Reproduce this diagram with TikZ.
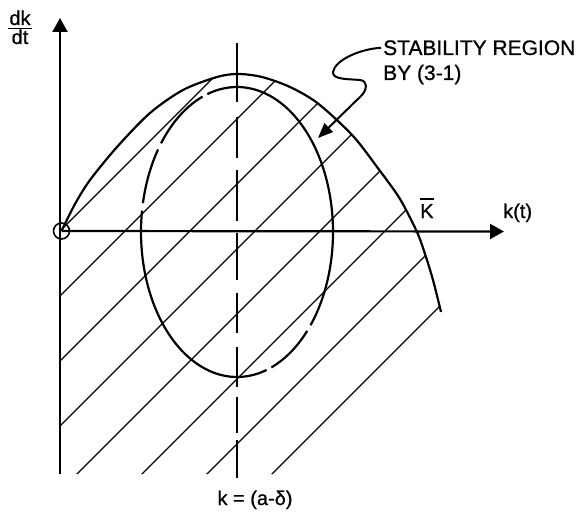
\documentclass[tikz,border=0pt]{standalone}
\usepackage{fontspec}
\setmainfont{Liberation Sans}[FakeBold=0.8]
\usetikzlibrary{arrows.meta}
\begin{document}
\begin{tikzpicture}[x=1pt,y=-1pt,
  thickline/.style={line width=2.2pt},
  hatch/.style={line width=1.3pt},
  lbl/.style={inner sep=0pt, font=\fontsize{20}{24}\selectfont},
  biglbl/.style={inner sep=0pt, font=\fontsize{21}{25}\selectfont},
  axisarrow/.style={-{Triangle[length=14pt,width=15pt]}}]
\useasboundingbox (0,0) rectangle (577,513);

% hatching
\begin{scope}
\clip (60,474) -- (60,231) -- plot[smooth] coordinates {(61.5,231) (75,204) (90,180) (117,147) (150,113) (183,90) (217,77) (238,74) (262,77) (290,87) (318,103.5) (353,136) (380,171) (400,199) (417,232) (425,254) (433,280) (441,312)} -- (441,474) -- cycle;
\foreach \c in {291,356,421,486,551,616,681,746}
  \draw[hatch] ({\c-480},480) -- ({\c-20},20);
\end{scope}

% outer curve
\draw[thickline] plot[smooth] coordinates {(61.5,231) (75,204) (90,180) (117,147) (150,113) (183,90) (217,77) (238,74) (262,77) (290,87) (318,103.5) (353,136) (380,171) (400,199) (417,232) (425,254) (433,280) (441,312)};

% dashed ellipse
\foreach \a/\b in {-69/-43,-40/108,111/142.3,145.3/168.5,171.5/288}
  \draw[thickline] plot[domain=\a:\b, samples=60, smooth] ({237+96*cos(\x)},{232-145*sin(\x)});

% dashed vertical line
\foreach \a/\b in {43/102,117/158,170/221,233/280,293/333,347/387,397/433,440/478}
  \draw[thickline] (237,\a) -- (237,\b);

% origin and axes
\node[draw, circle, minimum size=16pt, inner sep=0pt, line width=1.6pt] (O) at (61.5,231) {};
\coordinate (ybot) at (60,474);
\coordinate (ytop) at (60,18);
\coordinate (xend) at (504,231.5);
\draw[thickline, axisarrow] (ybot) -- (ytop);
\draw[thickline, axisarrow] (O.center) -- (xend);

% labels
\node[lbl, anchor=base] (dk) at (20,25) {dk};
\node[lbl, anchor=base] (dt) at (20,44) {dt};
\draw[line width=1.8pt] ([xshift=-1pt]dk.south west |- 0,28.5) -- ([xshift=1pt]dk.south east |- 0,28.5);
\node[lbl, anchor=base west] (kt) at (503,218) {k(t)};
\node[lbl, anchor=base west] (Kbar) at (420,218) {K};
\draw[line width=1.8pt] ([yshift=5pt]Kbar.north west) -- ([yshift=5pt]Kbar.north east);
\node[biglbl, anchor=base west] (stab) at (383,55) {STABILITY REGION};
\node[biglbl, anchor=base west] (by) at (383,80) {BY (3-1)};
\node[lbl, anchor=base] (kad) at (255,505) {k = (a-δ)};

% pointer arrow
\coordinate (tip) at (318,138);
\draw[line width=2pt, -{Triangle[length=15pt,width=12pt]}] ([xshift=-2pt]stab.west) .. controls (360,49) and (335,60) .. (333,72) .. controls (332,80) and (350,79) .. (360,80) .. controls (368,81) and (367,89) .. (362,95) -- (tip);
\end{tikzpicture}
\end{document}
